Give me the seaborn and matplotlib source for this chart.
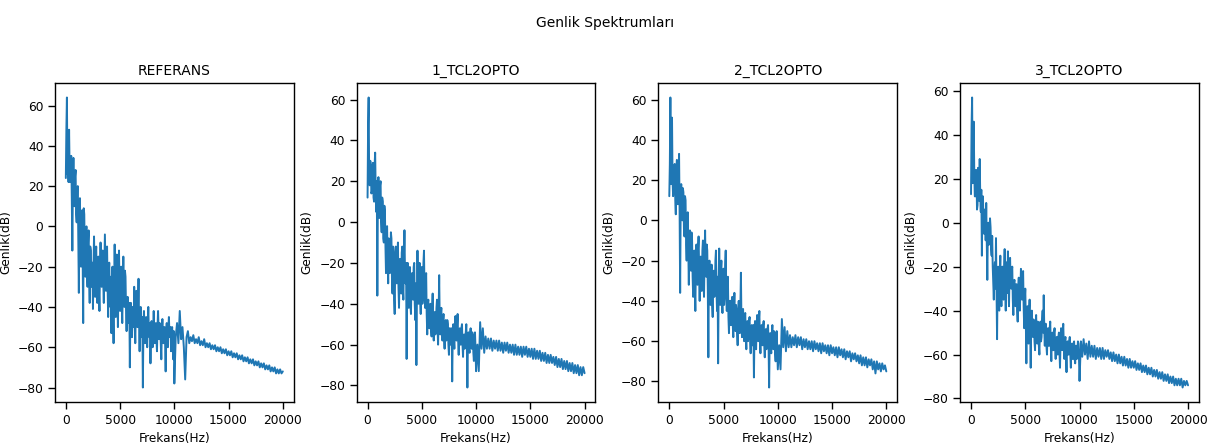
import seaborn as sns
import pandas as pd
import matplotlib.pyplot as plt

plot_name = 'out'

sns.set_theme(context='paper', style='ticks',
              rc={'text.color': 'black', 'axes.labelcolor': 'black',
                  'xtick.color': 'black', 'ytick.color': 'black',
                  'axes.edgecolor': 'black'})
plt.rcParams['font.family'] = ['DejaVu Sans']

# frequency bins (Hz): 50 Hz steps up to 10 kHz, 125 Hz steps after that
freq_hz = [
    0, 50, 100, 150, 200, 250, 300, 350, 400, 450, 500, 550, 600, 650, 700, 750, 800, 850, 900, 950,
    1000, 1050, 1100, 1150, 1200, 1250, 1300, 1350, 1400, 1450, 1500, 1550, 1600, 1650, 1700, 1750, 1800, 1850, 1900, 1950,
    2000, 2050, 2100, 2150, 2200, 2250, 2300, 2350, 2400, 2450, 2500, 2550, 2600, 2650, 2700, 2750, 2800, 2850, 2900, 2950,
    3000, 3050, 3100, 3150, 3200, 3250, 3300, 3350, 3400, 3450, 3500, 3550, 3600, 3650, 3700, 3750, 3800, 3850, 3900, 3950,
    4000, 4050, 4100, 4150, 4200, 4250, 4300, 4350, 4400, 4450, 4500, 4550, 4600, 4650, 4700, 4750, 4800, 4850, 4900, 4950,
    5000, 5050, 5100, 5150, 5200, 5250, 5300, 5350, 5400, 5450, 5500, 5550, 5600, 5650, 5700, 5750, 5800, 5850, 5900, 5950,
    6000, 6050, 6100, 6150, 6200, 6250, 6300, 6350, 6400, 6450, 6500, 6550, 6600, 6650, 6700, 6750, 6800, 6850, 6900, 6950,
    7000, 7050, 7100, 7150, 7200, 7250, 7300, 7350, 7400, 7450, 7500, 7550, 7600, 7650, 7700, 7750, 7800, 7850, 7900, 7950,
    8000, 8050, 8100, 8150, 8200, 8250, 8300, 8350, 8400, 8450, 8500, 8550, 8600, 8650, 8700, 8750, 8800, 8850, 8900, 8950,
    9000, 9050, 9100, 9150, 9200, 9250, 9300, 9350, 9400, 9450, 9500, 9550, 9600, 9650, 9700, 9750, 9800, 9850, 9900, 9950,
    10000,
    10125, 10250, 10375, 10500, 10625, 10750, 10875, 11000,
    11125, 11250, 11375, 11500, 11625, 11750, 11875, 12000,
    12125, 12250, 12375, 12500, 12625, 12750, 12875, 13000,
    13125, 13250, 13375, 13500, 13625, 13750, 13875, 14000,
    14125, 14250, 14375, 14500, 14625, 14750, 14875, 15000,
    15125, 15250, 15375, 15500, 15625, 15750, 15875, 16000,
    16125, 16250, 16375, 16500, 16625, 16750, 16875, 17000,
    17125, 17250, 17375, 17500, 17625, 17750, 17875, 18000,
    18125, 18250, 18375, 18500, 18625, 18750, 18875, 19000,
    19125, 19250, 19375, 19500, 19625, 19750, 19875, 20000,
]

referans_db = [
    24, 48, 64, 26, 30, 22, 48, 28, 22, 32, 35, 14, -12, 20, 34, 16, 10, 25, 28, 6,
    2, 18, 20, -5, -33, 5, 14, -10, -20, 3, 8, -15, -48, 9, 6, -18, -25, -5, 0, -22,
    -30, -8, -2, -25, -38, -10, -12, -30, -28, -18, -41, -20, -5, -25, -35, -15, -10, -28, -38, -18,
    -15, -32, -42, -20, -8, -22, -30, -15, -12, -28, -38, -20, -4, -18, -32, -22, -10, -30, -45, -25,
    -18, -35, -40, -25, -53, -30, -20, -42, -58, -30, -9, -28, -45, -30, -14, -35, -50, -28, -12, -30,
    -42, -25, -20, -38, -48, -30, -15, -35, -40, -22, -25, -42, -52, -38, -35, -45, -48, -38, -70, -45,
    -38, -50, -55, -40, -42, -50, -30, -48, -58, -42, -32, -45, -50, -40, -26, -48, -62, -45, -40, -52,
    -55, -45, -80, -50, -42, -52, -58, -48, -45, -55, -60, -48, -40, -52, -55, -48, -68, -52, -47, -56,
    -60, -50, -42, -52, -58, -50, -48, -56, -62, -50, -42, -52, -56, -48, -50, -58, -66, -52, -46, -55,
    -58, -50, -50, -58, -72, -52, -48, -56, -60, -50, -45, -54, -55, -50, -62, -52, -50, -58, -66, -52,
    -78,
    -55, -48, -58, -42, -56, -50, -60, -76,
    -55, -52, -58, -55, -57, -54, -58, -56,
    -58, -55, -59, -57, -59, -56, -60, -58,
    -60, -58, -61, -59, -61, -59, -62, -60,
    -62, -60, -63, -61, -63, -61, -64, -62,
    -64, -62, -65, -63, -65, -63, -66, -64,
    -66, -64, -67, -65, -67, -65, -68, -66,
    -68, -66, -69, -67, -69, -67, -70, -68,
    -70, -68, -71, -69, -71, -69, -72, -70,
    -72, -70, -73, -71, -73, -71, -73, -72,
]

tcl1_db = [
    12, 48, 61, 20, 18, 30, 28, 14, 15, 25, 29, 12, 10, 28, 34, 15, 5, 20, -36, 10,
    22, 5, 2, 18, 20, 0, -5, 12, 10, -8, -10, 8, 5, -12, -25, -5, -2, -18, -30, -8,
    -12, -25, -20, -5, -8, -28, -35, -12, -15, -38, -45, -20, -12, -28, -30, -15, -10, -32, -42, -22,
    -18, -30, -35, -15, -12, -32, -38, -18, -4, -25, -30, -20, -67, -28, -20, -38, -42, -25, -22, -40,
    -45, -28, -25, -35, -38, -22, -20, -40, -48, -30, -70, -35, -14, -32, -40, -25, -20, -38, -45, -28,
    -22, -40, -36, -20, -14, -35, -42, -30, -25, -45, -55, -40, -38, -50, -52, -42, -40, -52, -56, -42,
    -35, -50, -58, -45, -44, -55, -52, -42, -38, -52, -60, -45, -26, -48, -55, -45, -42, -55, -58, -48,
    -45, -56, -62, -50, -48, -58, -56, -48, -50, -60, -65, -52, -52, -60, -60, -52, -78, -55, -50, -58,
    -62, -52, -46, -56, -58, -50, -45, -58, -65, -54, -52, -60, -60, -52, -50, -60, -66, -56, -55, -62,
    -60, -54, -50, -60, -81, -58, -54, -62, -64, -55, -52, -60, -62, -54, -56, -64, -68, -56, -54, -62,
    -73,
    -60, -73, -49, -62, -52, -64, -56, -62,
    -57, -62, -57, -63, -58, -62, -58, -63,
    -58, -63, -59, -64, -59, -63, -59, -64,
    -60, -64, -60, -65, -60, -65, -61, -65,
    -61, -66, -61, -65, -61, -66, -62, -66,
    -62, -67, -62, -67, -63, -67, -63, -68,
    -64, -68, -64, -69, -65, -69, -65, -69,
    -66, -70, -66, -71, -67, -71, -67, -72,
    -68, -72, -68, -73, -69, -73, -69, -74,
    -70, -74, -70, -75, -71, -75, -71, -74,
]

tcl2_db = [
    12, 28, 61, 18, 22, 51, 20, 12, 16, 26, 28, 10, 3, 24, 30, 12, 8, 22, 33, 5,
    -36, 8, 18, 2, 0, 16, 14, -4, -8, 12, 10, -12, -20, -2, 4, -15, -32, -8, -5, -20,
    -25, -6, -10, -28, -38, -18, -15, -32, -45, -22, -12, -28, -32, -14, -8, -25, -40, -20, -18, -35,
    -35, -15, -10, -30, -38, -18, -5, -25, -28, -12, -15, -35, -68, -25, -20, -40, -42, -26, -22, -42,
    -48, -28, -25, -38, -36, -20, -15, -35, -45, -28, -71, -32, -14, -30, -42, -25, -20, -40, -46, -28,
    -24, -42, -38, -22, -15, -36, -45, -30, -28, -48, -56, -40, -40, -52, -52, -40, -38, -52, -58, -44,
    -36, -50, -55, -42, -45, -56, -62, -46, -40, -54, -56, -44, -26, -50, -58, -46, -44, -56, -60, -48,
    -46, -58, -64, -52, -50, -60, -58, -50, -48, -60, -66, -54, -52, -62, -62, -52, -78, -56, -50, -60,
    -64, -52, -47, -58, -60, -50, -45, -60, -66, -55, -52, -62, -62, -52, -50, -62, -68, -56, -54, -64,
    -62, -54, -52, -62, -83, -60, -56, -64, -66, -56, -52, -62, -64, -55, -56, -66, -70, -58, -55, -64,
    -74,
    -62, -74, -49, -63, -53, -65, -55, -63,
    -57, -63, -58, -62, -57, -63, -58, -62,
    -58, -64, -59, -63, -59, -64, -60, -64,
    -60, -65, -60, -64, -61, -65, -61, -66,
    -61, -65, -62, -66, -62, -67, -62, -66,
    -63, -67, -63, -68, -63, -67, -64, -68,
    -64, -69, -65, -68, -65, -70, -66, -69,
    -66, -70, -67, -71, -67, -72, -68, -72,
    -68, -73, -69, -72, -69, -74, -70, -76,
    -70, -74, -71, -75, -71, -74, -72, -75,
]

tcl3_db = [
    13, 44, 57, 18, 20, 46, 22, 12, 12, 24, 24, 6, 8, 25, 22, 10, 29, 12, 5, 15,
    -15, 8, 12, -2, -5, 6, 4, -8, 9, -10, -26, -4, 0, -10, -8, 2, -2, -12, -15, -6,
    -20, -28, -35, -22, -18, -30, -7, -32, -53, -25, -20, -35, -40, -22, -15, -30, -38, -22, -20, -32,
    -35, -20, -12, -28, -40, -22, -18, -32, -13, -28, -38, -22, -16, -28, -30, -22, -20, -35, -42, -28,
    -26, -36, -38, -28, -28, -40, -45, -30, -25, -36, -40, -30, -21, -32, -35, -26, -22, -38, -48, -35,
    -30, -45, -64, -42, -38, -50, -55, -40, -35, -48, -66, -45, -40, -50, -52, -44, -45, -54, -58, -46,
    -42, -52, -55, -45, -46, -56, -60, -48, -45, -54, -52, -44, -40, -50, -33, -48, -56, -46, -46, -56,
    -60, -50, -48, -56, -56, -48, -45, -56, -63, -52, -50, -58, -58, -50, -48, -56, -62, -54, -52, -58,
    -60, -52, -50, -58, -66, -54, -48, -56, -58, -50, -46, -56, -62, -54, -52, -60, -68, -56, -54, -60,
    -60, -54, -52, -60, -66, -56, -55, -62, -62, -55, -54, -62, -64, -56, -56, -62, -60, -54, -55, -62,
    -72,
    -54, -61, -53, -60, -55, -62, -54, -61,
    -56, -61, -56, -62, -57, -61, -57, -62,
    -57, -62, -58, -61, -58, -62, -59, -63,
    -59, -63, -60, -64, -60, -64, -61, -65,
    -61, -65, -62, -66, -62, -66, -63, -66,
    -63, -67, -64, -67, -64, -68, -65, -68,
    -65, -69, -66, -69, -66, -70, -67, -70,
    -67, -71, -68, -71, -68, -72, -69, -72,
    -69, -73, -70, -73, -70, -74, -71, -74,
    -71, -74, -71, -75, -72, -74, -72, -74,
]

titles = ['REFERANS', '1_TCL2OPTO', '2_TCL2OPTO', '3_TCL2OPTO']
series = [referans_db, tcl1_db, tcl2_db, tcl3_db]

fig, axes = plt.subplots(1, 4, figsize=(12.11, 4.45), dpi=100)
fig.subplots_adjust(left=0.0454, right=0.990, bottom=0.0966, top=0.8135,
                    wspace=0.264)

for ax, name, vals in zip(axes, titles, series):
    df = pd.DataFrame({'Frekans': freq_hz, 'Genlik': vals})
    sns.lineplot(data=df, x='Frekans', y='Genlik', ax=ax,
                 estimator=None, sort=False, color='#1f77b4', linewidth=1.4)
    ax.set_title(name, fontsize=10)
    ax.set_xlabel('Frekans(Hz)', fontsize=8.7)
    ax.set_ylabel('Genlik(dB)', fontsize=8.7)
    ax.tick_params(labelsize=8.8)
    ax.set_xticks([0, 5000, 10000, 15000, 20000])

fig.suptitle('Genlik Spektrumları', fontsize=10, y=0.965)

fig.savefig(plot_name + '.png', dpi=100)
